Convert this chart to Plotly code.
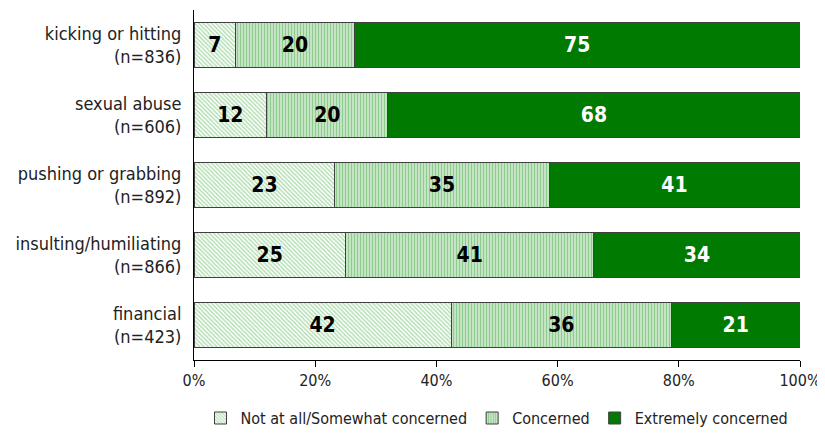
import plotly.graph_objects as go

categories = ["kicking or hitting<br>(n=836)", "sexual abuse<br>(n=606)",
              "pushing or grabbing<br>(n=892)", "insulting/humiliating<br>(n=866)",
              "financial<br>(n=423)"]
not_at_all = [7, 12, 23, 25, 42]
concerned = [20, 20, 35, 41, 36]
extremely = [75, 68, 41, 34, 21]
series_names = ["Not at all/Somewhat concerned", "Concerned", "Extremely concerned"]
x_ticks = [0, 20, 40, 60, 80, 100]
x_tick_labels = ["0%", "20%", "40%", "60%", "80%", "100%"]

FONT = "DejaVu Sans Condensed, Liberation Sans Narrow, Arial Narrow, sans-serif"

fig = go.Figure()
fig.add_trace(go.Bar(
    y=categories, x=not_at_all, orientation="h", name=series_names[0],
    text=not_at_all, texttemplate="%{text}", textposition="inside",
    insidetextanchor="middle", textangle=0,
    textfont=dict(family=FONT, size=21, color="black", weight="bold"),
    marker=dict(color="white", line=dict(color="#404040", width=1),
                pattern=dict(shape="\\", fgcolor="#6cbf6c", bgcolor="white",
                             size=3, solidity=0.5)),
))
fig.add_trace(go.Bar(
    y=categories, x=concerned, orientation="h", name=series_names[1],
    text=concerned, texttemplate="%{text}", textposition="inside",
    insidetextanchor="middle", textangle=0,
    textfont=dict(family=FONT, size=21, color="black", weight="bold"),
    marker=dict(color="#d8ecd8", line=dict(color="#404040", width=1),
                pattern=dict(shape="|", fgcolor="#3fae3f", bgcolor="#d8ecd8",
                             size=3, solidity=0.5)),
))
fig.add_trace(go.Bar(
    y=categories, x=extremely, orientation="h", name=series_names[2],
    text=extremely, texttemplate="%{text}", textposition="inside",
    insidetextanchor="middle", textangle=0,
    textfont=dict(family=FONT, size=21, color="white", weight="bold"),
    marker=dict(color="#007a00", line=dict(color="#404040", width=1)),
))

fig.update_layout(
    width=817, height=430,
    barmode="stack", barnorm="percent", bargap=0.37,
    paper_bgcolor="white", plot_bgcolor="white",
    margin=dict(l=186, r=25, t=2, b=78, autoexpand=False),
    font=dict(family=FONT, size=16, color="#222222"),
    showlegend=True,
    legend=dict(orientation="h", x=0.5, y=-0.166, xref="paper", yref="paper",
                xanchor="center", yanchor="middle",
                font=dict(family=FONT, size=16, color="#222222"),
                traceorder="normal", itemwidth=30, tracegroupgap=0),
    xaxis=dict(range=[0, 100], tickvals=x_ticks, ticktext=x_tick_labels,
               automargin=False,
               showgrid=False, zeroline=False, showline=True, linecolor="black",
               linewidth=1, ticks="outside", ticklen=6, tickcolor="black",
               tickfont=dict(family=FONT, size=16, color="#222222")),
    yaxis=dict(autorange="reversed", showgrid=False, zeroline=False,
               automargin=False,
               showline=True, linecolor="black", linewidth=1, ticks="",
               ticklabelstandoff=8,
               tickfont=dict(family=FONT, size=18, color="#222222")),
)

fig.write_html("out.html")
